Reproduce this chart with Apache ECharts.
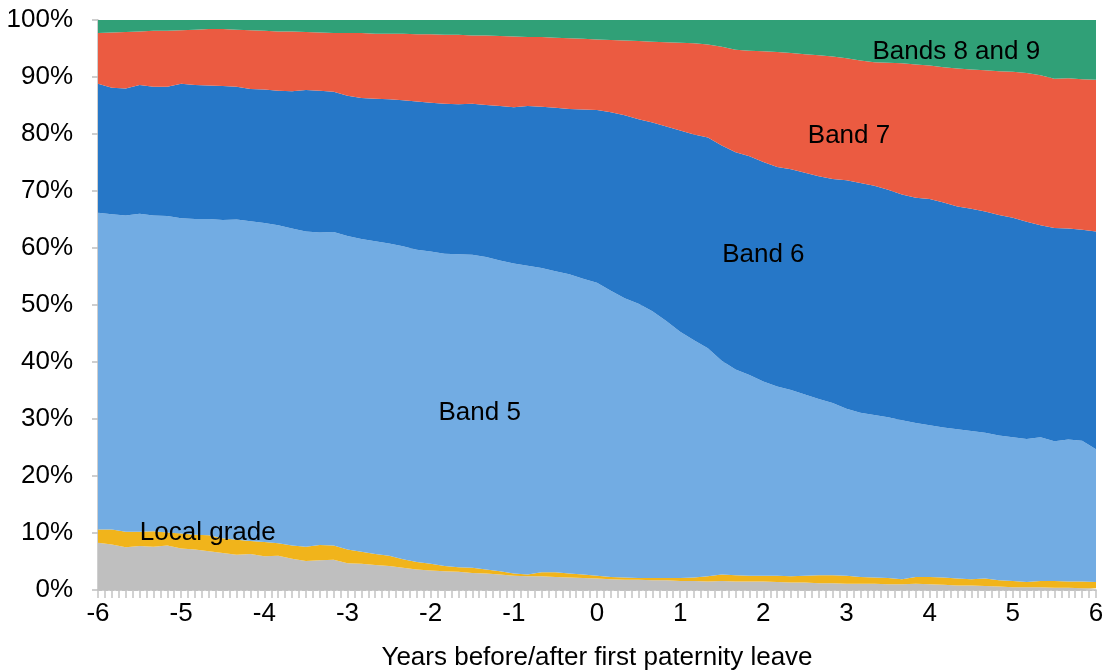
<!DOCTYPE html>
<html>
<head>
<meta charset="utf-8">
<script src="https://cdn.jsdelivr.net/npm/echarts@6/dist/echarts.min.js"></script>
<style>
html,body{margin:0;padding:0;background:#fff;}
#chart{width:1106px;height:671px;}
</style>
</head>
<body>
<div id="chart"></div>
<script>
// Months relative to first paternity leave (x positions of the readings)
const monthsFromLeave = [-72,-70,-68,-66,-64,-62,-60,-58,-56,-54,-52,-50,-48,-46,-44,-42,-40,-38,-36,-34,-32,-30,-28,-26,-24,-22,-20,-18,-16,-14,-12,-10,-8,-6,-4,-2,0,2,4,6,8,10,12,14,16,18,20,22,24,26,28,30,32,34,36,38,40,42,44,46,48,50,52,54,56,58,60,62,64,66,68,70,72];

// Shares (%) of each grade
const other = [8.3,8.0,7.5,7.7,7.6,7.8,7.3,7.1,6.8,6.5,6.2,6.3,5.9,6.0,5.5,5.1,5.2,5.3,4.7,4.6,4.4,4.2,3.9,3.6,3.4,3.3,3.2,3.0,2.9,2.7,2.5,2.4,2.4,2.3,2.2,2.1,2.0,
  1.9,1.8,1.8,1.7,1.7,1.6,1.6,1.5,1.6,1.5,1.5,1.5,1.4,1.3,1.3,1.2,1.2,1.1,1.1,1.1,1.0,1.0,1.1,1.0,0.9,0.8,0.8,0.7,0.6,0.5,0.5,0.5,0.4,0.4,0.3,0.3];
const localGrade = [2.3,2.6,2.7,2.5,2.7,2.3,2.6,2.6,2.8,2.6,2.6,2.3,2.5,2.2,2.3,2.5,2.7,2.5,2.4,2.1,1.9,1.8,1.5,1.3,1.2,0.9,0.8,0.9,0.7,0.6,0.4,0.3,0.7,0.8,0.7,0.6,0.5,
  0.4,0.4,0.3,0.4,0.4,0.5,0.6,0.9,1.1,1.1,1.0,1.0,1.1,1.1,1.2,1.4,1.4,1.4,1.2,1.1,1.1,0.9,1.2,1.3,1.3,1.2,1.1,1.3,1.1,1.1,0.9,1.1,1.2,1.1,1.2,1.1];
const band5 = [55.6,55.3,55.5,55.8,55.4,55.5,55.3,55.4,55.5,55.8,56.2,56.1,56.0,55.8,55.6,55.3,54.8,55.0,55.0,54.9,54.9,54.8,54.9,54.8,54.8,54.8,54.9,54.9,54.8,54.5,54.4,54.2,53.4,52.8,52.5,51.9,51.4,
  50.2,49.0,48.1,46.8,45.1,43.2,41.6,40.0,37.5,36.1,35.2,34.1,33.2,32.7,31.8,30.9,30.2,29.3,28.8,28.5,28.2,27.9,27.0,26.6,26.3,26.2,26.0,25.6,25.4,25.2,25.1,25.2,24.5,24.9,24.7,23.3];
const band6 = [22.6,22.2,22.3,22.6,22.6,22.7,23.6,23.5,23.4,23.5,23.3,23.2,23.4,23.6,24.1,24.8,24.9,24.6,24.6,24.7,25.0,25.3,25.6,26.0,26.1,26.3,26.3,26.5,26.7,27.1,27.4,28.0,28.3,28.7,29.0,29.7,30.3,
  31.3,32.1,32.4,33.1,34.1,35.3,36.1,37.0,37.8,38.1,38.4,38.5,38.5,38.7,38.9,39.1,39.3,40.1,40.3,40.2,39.9,39.6,39.5,39.7,39.5,39.1,39.0,38.8,38.7,38.5,38.1,37.2,37.4,37.0,37.0,38.2];
const band7 = [8.9,9.7,9.9,9.4,9.8,9.8,9.4,9.7,9.9,10.0,10.0,10.3,10.3,10.4,10.5,10.2,10.2,10.3,11.0,11.4,11.4,11.5,11.7,11.8,12.0,12.1,12.2,12.0,12.2,12.3,12.4,12.1,12.2,12.3,12.4,12.4,12.4,
  12.7,13.1,13.7,14.2,14.8,15.4,16.0,16.3,17.3,18.0,18.5,19.4,20.2,20.4,20.8,21.2,21.5,21.4,21.5,21.7,22.3,23.0,23.4,23.4,23.7,24.2,24.4,24.8,25.2,25.6,26.1,26.3,26.2,26.4,26.4,26.6];
const band89 = [2.3,2.2,2.1,2.0,1.9,1.9,1.8,1.7,1.6,1.6,1.7,1.8,1.9,2.0,2.0,2.1,2.2,2.3,2.3,2.3,2.4,2.4,2.4,2.5,2.5,2.6,2.6,2.7,2.7,2.8,2.9,3.0,3.0,3.1,3.2,3.3,3.4,
  3.5,3.6,3.7,3.8,3.9,4.0,4.1,4.3,4.7,5.2,5.4,5.5,5.6,5.8,6.0,6.2,6.4,6.7,7.1,7.4,7.5,7.6,7.8,8.0,8.3,8.5,8.7,8.8,9.0,9.1,9.3,9.7,10.3,10.2,10.4,10.5];

const seriesNames = ['Other','Local grade','Band 5','Band 6','Band 7','Bands 8 and 9'];
const seriesValues = [other, localGrade, band5, band6, band7, band89];
const seriesColors = ['#BFBFBF','#F1B41B','#72ACE3','#2677C7','#EB5B41','#30A077'];

// Area labels anchored in data space [years, percent]
const areaLabels = [
  {text:'Local grade', at:[-4.68, 10.0]},
  {text:'Band 5', at:[-1.41, 31.0]},
  {text:'Band 6', at:[2.0, 58.8]},
  {text:'Band 7', at:[3.03, 79.6]},
  {text:'Bands 8 and 9', at:[4.32, 94.4]}
];

const FONT = '"Liberation Sans", Arial, sans-serif';
const chart = echarts.init(document.getElementById('chart'), null, {renderer:'canvas'});

const series = seriesNames.map((name, i) => ({
  name: name,
  type: 'line',
  stack: 'total',
  xAxisIndex: 0,
  yAxisIndex: 0,
  showSymbol: false,
  symbol: 'none',
  smooth: false,
  lineStyle: {width: 0},
  areaStyle: {color: seriesColors[i], opacity: 1},
  itemStyle: {color: seriesColors[i]},
  emphasis: {disabled: true},
  animation: false,
  data: seriesValues[i]
}));

chart.setOption({
  animation: false,
  backgroundColor: '#ffffff',
  grid: {left: 98, right: 10, top: 20, bottom: 81, containLabel: false, outerBoundsMode: 'none'},
  xAxis: [
    {
      // data axis: one category per reading, spanning the full width
      type: 'category',
      data: monthsFromLeave.map(String),
      boundaryGap: false,
      position: 'bottom',
      show: false
    },
    {
      // visible axis in years with monthly ticks
      type: 'value',
      position: 'bottom',
      offset: 0,
      min: -6, max: 6, interval: 1,
      name: 'Years before/after first paternity leave',
      nameLocation: 'middle',
      nameGap: 55,
      nameTextStyle: {fontSize: 26, fontFamily: FONT, color: '#000'},
      axisLine: {show: true, onZero: false, lineStyle: {color: '#BFBFBF', width: 1.5}},
      axisTick: {show: true, length: 8, lineStyle: {color: '#C4C4C4', width: 1.5}},
      minorTick: {show: true, splitNumber: 12, length: 8, lineStyle: {color: '#C4C4C4', width: 1.5}},
      axisLabel: {fontSize: 26, fontFamily: FONT, color: '#000', margin: 11},
      splitLine: {show: false},
      minorSplitLine: {show: false}
    }
  ],
  yAxis: {
    type: 'value',
    min: 0, max: 100, interval: 10,
    axisLine: {show: true, onZero: false, lineStyle: {color: '#BFBFBF', width: 1.5}},
    axisTick: {show: true, length: 6, lineStyle: {color: '#BFBFBF', width: 1.5}},
    axisLabel: {fontSize: 26, fontFamily: FONT, color: '#000', margin: 25, formatter: '{value}%'},
    splitLine: {show: true, lineStyle: {color: '#C8C8C8', type: 'dashed', width: 1}}
  },
  series: series
});

const graphics = areaLabels.map(l => {
  const px = chart.convertToPixel({xAxisIndex: 1}, l.at[0]);
  const py = chart.convertToPixel({yAxisIndex: 0}, l.at[1]);
  return {
    type: 'text',
    x: px, y: py,
    z: 100,
    style: {
      text: l.text,
      font: '26px ' + FONT,
      fill: '#000',
      align: 'center',
      verticalAlign: 'middle'
    }
  };
});
chart.setOption({graphic: graphics});
</script>
</body>
</html>
